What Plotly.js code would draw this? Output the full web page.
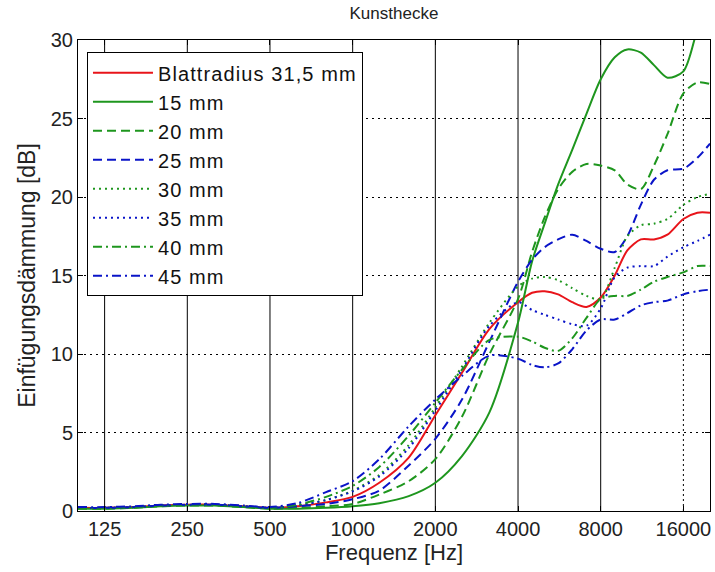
<!DOCTYPE html>
<html>
<head>
<meta charset="utf-8">
<script src="https://cdn.plot.ly/plotly-3.0.1.min.js"></script>
<style>html,body{margin:0;padding:0;background:#fff;}#chart{width:715px;height:572px;}
.legendtext{letter-spacing:1.1px;}</style>
</head>
<body>
<div id="chart"></div>
<script>
// Frequencies [Hz]
const freq = [100,125,160,200,250,315,400,500,630,800,1000,1250,1600,2000,2500,3150,4000,4500,5000,5600,6300,7100,8000,9000,10000,11200,12500,14000,16000,18000,20000];

// Einfügungsdämmung [dB]
const r31_5 = [0.2,0.2,0.25,0.35,0.4,0.4,0.3,0.2,0.3,0.55,0.9,1.8,3.4,6.1,8.8,11.6,13.3,13.9,14.0,13.8,13.3,13.0,13.6,15.0,16.6,17.3,17.3,17.6,18.6,19.0,19.0];
const r15   = [0.15,0.15,0.2,0.3,0.35,0.35,0.25,0.15,0.15,0.2,0.3,0.5,0.95,1.8,3.5,6.3,12.0,15.9,18.3,20.8,23.0,25.3,27.5,28.9,29.4,29.2,28.4,27.6,28.0,30.7,33.0];
const r20   = [0.15,0.15,0.2,0.3,0.35,0.35,0.25,0.15,0.2,0.3,0.45,1.05,1.9,3.3,6.0,10.0,13.5,16.5,18.7,20.5,21.6,22.1,22.0,21.7,20.8,20.5,22.0,24.0,26.6,27.3,27.2];
const r25   = [0.2,0.2,0.25,0.35,0.4,0.4,0.3,0.2,0.3,0.45,0.75,1.3,2.9,4.6,7.1,10.8,14.6,16.0,16.8,17.3,17.6,17.2,16.7,16.5,17.5,19.5,21.1,21.7,21.8,22.5,23.4];
const r30   = [0.2,0.2,0.25,0.35,0.4,0.4,0.3,0.2,0.35,0.7,1.3,2.3,4.2,6.6,9.2,12.0,14.3,14.8,14.9,14.7,14.2,13.7,13.5,15.5,17.5,18.2,18.3,18.6,19.5,20.0,20.2];
const r35   = [0.2,0.2,0.25,0.35,0.4,0.4,0.3,0.2,0.35,0.7,1.25,2.2,4.0,6.4,9.0,11.8,13.3,12.8,12.5,12.2,11.9,11.8,12.9,14.9,15.5,15.6,15.6,16.2,16.8,17.2,17.6];
const r40   = [0.2,0.2,0.25,0.35,0.4,0.4,0.3,0.2,0.4,0.9,1.6,2.8,4.8,6.9,9.0,10.9,11.1,10.8,10.4,10.2,11.0,12.3,13.5,13.7,13.7,14.1,14.6,14.9,15.2,15.6,15.6];
const r45   = [0.25,0.25,0.3,0.4,0.45,0.45,0.35,0.25,0.5,1.2,1.9,3.3,5.4,7.1,8.6,9.9,9.7,9.3,9.15,9.4,10.3,11.5,12.2,12.2,12.6,13.1,13.3,13.4,13.8,14.0,14.1];

const seriesNames = ['Blattradius 31,5 mm','15 mm','20 mm','25 mm','30 mm','35 mm','40 mm','45 mm'];
const xTicks = [125,250,500,1000,2000,4000,8000,16000];
const xTickText = ['125','250','500','1000','2000','4000','8000','16000'];
const yTicks = [0,5,10,15,20,25,30];

const RED = '#e8141a', GREEN = '#1e961e', BLUE = '#0a14c8';
const DASH = '9px,5px', DOT = '2px,4px', DASHDOT = '9px,4px,2px,4px';

function tr(y, name, color, dash, rank) {
  return {x: freq, y: y, name: name, type: 'scatter', mode: 'lines',
          line: {color: color, width: 2, dash: dash, shape: 'spline', smoothing: 0.8},
          legendrank: rank};
}

const data = [
  tr(r31_5, seriesNames[0], RED, 'solid', 1),
  tr(r15, seriesNames[1], GREEN, 'solid', 2),
  tr(r20, seriesNames[2], GREEN, DASH, 3),
  tr(r25, seriesNames[3], BLUE, DASH, 4),
  tr(r30, seriesNames[4], GREEN, DOT, 5),
  tr(r35, seriesNames[5], BLUE, DOT, 6),
  tr(r40, seriesNames[6], GREEN, DASHDOT, 7),
  tr(r45, seriesNames[7], BLUE, DASHDOT, 8)
];

const shapes = xTicks.map(v => ({
  type: 'line', xref: 'x', yref: 'paper', x0: v, x1: v, y0: 0, y1: 1, layer: 'below',
  line: {color: '#000', width: 1, dash: v === 16000 ? '2px,3px' : 'solid'}
}));

const FONT = 'Liberation Sans, Arial, sans-serif';
const layout = {
  width: 715, height: 572,
  margin: {l: 78, r: 5, t: 40, b: 61},
  paper_bgcolor: '#fff', plot_bgcolor: '#fff',
  font: {family: FONT, color: '#222', size: 20},
  title: {text: 'Kunsthecke', font: {family: FONT, size: 17, color: '#222'}, x: 0.551, xanchor: 'center', y: 0.978, yanchor: 'middle'},
  xaxis: {
    type: 'log', range: [Math.log10(100), Math.log10(20000)],
    tickvals: xTicks, ticktext: xTickText,
    ticks: 'inside', ticklen: 5, tickcolor: '#000', mirror: 'allticks',
    showline: true, linecolor: '#000', linewidth: 1, showgrid: false, zeroline: false,
    tickfont: {size: 20, color: '#222'},
    title: {text: 'Frequenz [Hz]', font: {size: 22, color: '#222'}, standoff: 4}
  },
  yaxis: {
    range: [0, 30], tickvals: yTicks,
    ticks: 'inside', ticklen: 5, tickcolor: '#000', mirror: 'allticks',
    showline: true, linecolor: '#000', linewidth: 1,
    showgrid: true, gridcolor: '#000', gridwidth: 1, griddash: '2px,4px', zeroline: false,
    tickfont: {size: 20, color: '#222'},
    title: {text: 'Einfügungsdämmung [dB]', font: {size: 23, color: '#222'}, standoff: 8}
  },
  shapes: shapes,
  showlegend: true,
  legend: {
    x: 0.0142, y: 0.974, xanchor: 'left', yanchor: 'top',
    bgcolor: '#fff', bordercolor: '#000', borderwidth: 1,
    font: {family: FONT, size: 20, color: '#111'},
    itemwidth: 60, tracegroupgap: 0
  }
};

Plotly.newPlot('chart', data, layout, {displayModeBar: false, staticPlot: true});
</script>
</body>
</html>
